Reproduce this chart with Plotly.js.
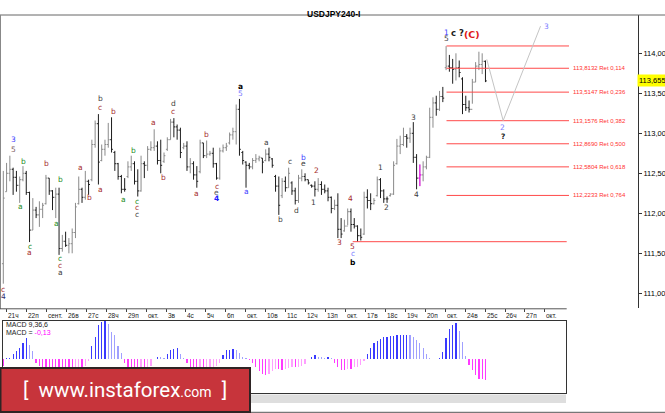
<!DOCTYPE html>
<html><head><meta charset="utf-8">
<script src="https://cdn.plot.ly/plotly-3.0.1.min.js"></script>
<style>html,body{margin:0;padding:0;background:#fff}#chart{width:665px;height:413px}</style>
</head><body><div id="chart"></div>
<script>
// ---- DATA (USDJPY H4) ----
const barOpen = [111.37,112.27,112.50,112.55,112.45,112.35,112.42,112.50,112.26,111.79,112.04,111.98,112.05,112.12,112.44,112.28,112.20,112.24,111.56,111.65,111.60,111.62,111.76,112.12,112.30,112.20,112.40,112.42,112.86,113.12,112.66,112.80,112.86,112.92,112.76,112.62,112.46,112.30,112.46,112.58,112.62,112.40,112.28,112.62,112.60,112.80,112.82,112.84,112.66,112.65,112.80,112.92,113.14,113.08,113.04,112.82,112.84,112.58,112.62,112.48,112.52,112.88,112.72,112.74,112.75,112.62,112.44,112.78,112.82,112.88,112.98,113.02,113.30,112.76,112.64,112.60,112.58,112.66,112.68,112.69,112.66,112.74,112.68,112.46,112.34,112.22,112.40,112.32,112.38,112.28,112.16,112.44,112.46,112.42,112.35,112.34,112.30,112.36,112.30,112.28,112.20,112.06,112.10,111.80,111.78,111.84,112.02,111.86,111.84,111.72,111.74,112.20,112.16,112.12,112.22,112.42,112.28,112.18,112.22,112.24,112.62,112.84,112.86,112.96,112.94,113.00,112.70,112.44,112.48,112.58,112.70,113.20,113.38,113.30,113.46,113.82,113.84,113.82,113.80,113.82,113.68,113.36,113.32,113.30,113.64,113.84,113.86,113.90];
const barHigh = [112.53,112.63,112.72,112.57,112.53,112.46,112.59,112.53,112.27,112.19,112.08,112.15,112.13,112.48,112.44,112.29,112.32,112.32,111.73,111.77,111.69,111.81,112.13,112.46,112.32,112.53,112.42,112.92,113.16,113.24,112.86,112.92,113.13,113.20,112.78,112.63,112.48,112.44,112.65,112.72,112.65,112.55,112.72,112.65,112.84,112.90,113.05,112.90,112.92,112.76,112.95,113.18,113.19,113.11,113.07,112.88,112.90,112.69,112.65,112.59,112.92,112.88,112.91,112.78,112.82,112.63,112.82,112.86,112.88,113.01,113.07,113.36,113.43,112.78,112.65,112.63,112.69,112.74,112.72,112.69,112.80,112.82,112.69,112.48,112.46,112.44,112.46,112.57,112.40,112.32,112.48,112.55,112.50,112.42,112.36,112.40,112.44,112.40,112.36,112.32,112.21,112.17,112.25,111.94,111.92,112.06,112.06,111.94,111.85,111.81,112.27,112.30,112.25,112.19,112.46,112.44,112.30,112.21,112.25,112.65,112.93,112.97,113.07,112.99,113.07,113.14,112.74,112.61,112.65,112.72,113.32,113.45,113.47,113.53,113.58,114.09,113.98,113.93,114.00,113.91,113.70,113.47,113.41,113.68,113.89,114.02,114.00,113.91];
const barLow = [111.12,112.27,112.40,112.23,112.27,112.13,112.40,112.23,111.64,111.79,111.94,111.83,111.94,112.11,112.23,112.04,111.94,111.48,111.52,111.58,111.50,111.50,111.69,112.11,112.13,112.17,112.23,112.40,112.82,112.36,112.65,112.72,112.82,112.76,112.53,112.42,112.25,112.27,112.44,112.53,112.36,112.21,112.27,112.44,112.53,112.78,112.78,112.61,112.50,112.63,112.78,112.92,112.95,112.92,112.69,112.80,112.53,112.50,112.42,112.32,112.50,112.69,112.69,112.72,112.57,112.42,112.42,112.76,112.78,112.86,112.92,112.86,112.72,112.61,112.32,112.55,112.55,112.63,112.65,112.50,112.65,112.65,112.57,112.27,111.98,112.19,112.27,112.32,112.23,112.11,112.13,112.40,112.40,112.36,112.32,112.21,112.27,112.23,112.25,112.15,112.00,112.04,111.69,111.69,111.77,111.85,111.77,111.81,111.645,111.66,111.73,112.06,112.04,112.11,112.21,112.19,112.13,112.13,112.21,112.23,112.61,112.74,112.84,112.82,112.88,112.63,112.30,112.34,112.40,112.55,112.69,113.07,113.22,113.28,113.39,113.79,113.77,113.62,113.66,113.70,113.24,113.28,113.26,113.37,113.64,113.79,113.74,113.64];
const barClose = [112.19,112.50,112.55,112.45,112.35,112.42,112.50,112.26,111.79,112.04,111.98,112.05,112.10,112.44,112.28,112.20,112.24,111.56,111.65,111.60,111.62,111.76,112.08,112.30,112.20,112.40,112.36,112.86,113.12,112.64,112.80,112.86,112.92,112.80,112.62,112.46,112.30,112.30,112.58,112.62,112.40,112.28,112.62,112.60,112.80,112.82,112.84,112.66,112.60,112.72,112.92,113.14,113.08,113.04,112.76,112.84,112.58,112.62,112.48,112.40,112.88,112.72,112.74,112.75,112.62,112.44,112.78,112.82,112.84,112.98,113.02,113.30,112.80,112.66,112.60,112.58,112.66,112.68,112.70,112.64,112.74,112.70,112.60,112.34,112.10,112.40,112.32,112.50,112.28,112.16,112.44,112.46,112.42,112.38,112.34,112.30,112.36,112.30,112.28,112.20,112.06,112.10,111.80,111.74,111.84,112.02,111.86,111.84,111.72,111.70,112.20,112.16,112.12,112.16,112.42,112.28,112.18,112.18,112.24,112.60,112.84,112.86,112.96,112.94,113.00,112.70,112.44,112.48,112.58,112.70,113.20,113.38,113.30,113.46,113.44,113.84,113.82,113.80,113.82,113.76,113.36,113.32,113.30,113.64,113.84,113.86,113.90,113.655];
const macdHist = [-0.04,0.005,0.01,0.03,0.05,0.07,0.10,0.13,0.09,0.05,-0.02,-0.04,-0.05,-0.05,-0.05,-0.05,-0.05,-0.06,-0.06,-0.06,-0.06,-0.06,-0.055,-0.05,-0.05,-0.04,-0.01,0.08,0.14,0.21,0.23,0.235,0.22,0.17,0.15,0.08,0.04,-0.02,-0.05,-0.06,-0.065,-0.065,-0.06,-0.06,-0.055,-0.04,0.0,0.015,0.012,0.008,0.035,0.058,0.062,0.068,0.032,0.005,-0.02,-0.05,-0.06,-0.065,-0.06,-0.06,-0.055,-0.05,-0.045,-0.04,-0.02,0.025,0.055,0.06,0.062,0.06,0.04,0.012,0.005,-0.005,-0.02,-0.05,-0.07,-0.09,-0.097,-0.09,-0.075,-0.06,-0.06,-0.065,-0.06,-0.055,-0.05,-0.05,-0.045,-0.04,-0.03,0.0,0.012,0.025,0.015,0.012,0.01,0.015,0.005,-0.02,-0.05,-0.065,-0.066,-0.06,-0.06,-0.05,-0.045,-0.035,-0.01,0.035,0.07,0.10,0.115,0.125,0.135,0.14,0.145,0.145,0.15,0.15,0.15,0.152,0.15,0.14,0.12,0.10,0.07,0.035,0.006,0.004,0.004,0.006,0.048,0.13,0.186,0.213,0.224,0.178,0.11,0.02,-0.035,-0.066,-0.097,-0.12,-0.125,-0.13];
const highlightBar = 127;
const timeLabels = ["21ч","22п","сент.","26в","27с","28ч","29п","окт.","3в","4с","5ч","6п","окт.","10в","11с","12ч","13п","окт.","17в","18с","19ч","20п","окт.","24в","25с","26ч","27п","окт."];
const priceTicks = [111.0,111.5,112.0,112.5,113.0,113.5,114.0];
const fibLevels = [113.8132,113.5147,113.1576,112.8690,112.5804,112.2233];
const fibRatios = ["0,114","0,236","0,382","0,500","0,618","0,764"];
const fibTop = 114.092, fibBottom = 111.645;
const projBars = [147.4,152.4,163.8];
const projPrices = [113.925,113.16,114.34];
const lastPrice = 113.655;
const macdParams = "9,36,6";
const waveText  = ["c","4","3","5","b","a","c","a","b","b","a","c","c","a","a","b","b","c","a","b","a","b","c","c","c","a","b","d","c","a","b","c","e","4","a","5","a","a","b","c","d","b","e","2","1","3","4","5","c","b","1","2","3","4","1","5","c ?","(C)","2","?","3"];
const waveBar   = [0,0,3,3,6.1,5.1,8.1,8.1,13.2,17.3,16.3,17.3,17.3,17.3,23.4,26.2,29.5,29.5,29.5,33.5,36.6,39.6,40.7,40.7,40.7,45.7,48.8,51.8,51.8,59,62,65.1,65.1,65.1,72.2,72.2,74.2,80.3,84.4,87.4,89.5,91.5,91.5,95.5,94.5,102.4,105.7,106.5,106.5,106.5,115.1,116.7,125,126,135,135,138.6,142.8,152.3,152.3,165.5];
const wavePrice = [111.05,110.96,112.92,112.80,112.65,112.08,111.59,111.51,112.62,112.42,111.87,111.44,111.35,111.26,112.57,112.20,113.43,113.32,112.30,113.27,112.17,112.79,112.15,112.07,111.99,113.13,112.45,113.37,113.27,112.25,112.99,112.34,112.26,112.18,113.59,113.50,112.27,112.89,111.92,112.65,112.03,112.70,112.62,112.53,112.14,111.64,112.18,111.58,111.50,111.38,112.57,112.07,113.20,112.23,114.26,114.18,114.26,114.24,113.07,112.96,114.34];
const waveColor = ["#a52a2a","#303070","#3c3cff","#806060","#228b22","#228b22","#228b22","#a52a2a","#a52a2a","#228b22","#228b22","#228b22","#a52a2a","#3c3c3c","#a52a2a","#a52a2a","#3c3c3c","#a52a2a","#a52a2a","#a52a2a","#228b22","#228b22","#228b22","#a52a2a","#3c3c3c","#a52a2a","#a52a2a","#3c3c3c","#a52a2a","#a52a2a","#a52a2a","#a52a2a","#606060","#2020ff","#000000","#7b7bff","#3c3cff","#3c3c3c","#3c3c3c","#3c3c3c","#3c3c3c","#3c3cff","#3c3c3c","#a52a2a","#3c3c3c","#a52a2a","#a52a2a","#a52a2a","#7b7bff","#000000","#3c3c3c","#3c3c3c","#3c3c3c","#3c3c3c","#3c3cff","#3c3c3c","#202020","#e01818","#7b7bff","#202020","#7b7bff"];
const waveBold  = [0,0,0,0,0,0,0,0,0,0,0,0,0,0,0,0,0,0,0,0,0,0,0,0,0,0,0,0,0,0,0,0,0,1,1,0,0,0,0,0,0,0,0,0,0,0,0,0,0,1,0,0,0,0,0,0,1,1,0,1,0];

// ---- GEOMETRY ----
const W=665,H=413;
const fx=p=>p/W, fy=p=>1-p/H;
const BAR0=3.3, BARW=3.28;
const bx=px=>(px-BAR0)/BARW;
const idx = barClose.map((_,i)=>i);
const fmtC = (v,d)=>v.toFixed(d).replace('.',',');
const FONT = "Liberation Sans, Arial, sans-serif";

const tickMarks = timeLabels.map((_,k)=>bx(6.5+19.94*k));

const traces = [];
traces.push({type:'ohlc',x:idx,open:barOpen,high:barHigh,low:barLow,close:barClose,xaxis:'x',yaxis:'y',
  increasing:{line:{color:'#8a8a8a',width:1}},decreasing:{line:{color:'#1c1c1c',width:1}},
  tickwidth:0.42,hoverinfo:'skip',showlegend:false});
traces.push({type:'ohlc',x:[highlightBar],open:[barOpen[highlightBar]],high:[barHigh[highlightBar]],low:[barLow[highlightBar]],close:[barClose[highlightBar]],
  xaxis:'x',yaxis:'y',increasing:{line:{color:'#ff00ff',width:1}},decreasing:{line:{color:'#ff00ff',width:1}},
  tickwidth:0.42,hoverinfo:'skip',showlegend:false});

const fibStart=bx(446.5), fibEnd=bx(569), fibLabelX=bx(571.5);
const fx_=[], fy_=[];
[fibTop].concat(fibLevels).forEach(v=>{fx_.push(fibStart,fibEnd,null);fy_.push(v,v,null);});
fx_.push(bx(352.7),bx(566.7),null); fy_.push(fibBottom,fibBottom,null);
traces.push({type:'scatter',mode:'lines',x:fx_,y:fy_,xaxis:'x',yaxis:'y',line:{color:'#ff4a4a',width:1},hoverinfo:'skip',showlegend:false});
traces.push({type:'scatter',mode:'lines',x:projBars,y:projPrices,xaxis:'x',yaxis:'y',line:{color:'#c4c4c4',width:1},hoverinfo:'skip',showlegend:false});

const macdColors = macdHist.map((v,i)=>{
  const p = i>0?macdHist[i-1]:v;
  if (v>=0) return v>=p?'#3a3aff':'#a0a0ff';
  return v<=p?'#ff3aff':'#ffa0ff';
});
traces.push({type:'bar',x:idx,y:macdHist,xaxis:'x2',yaxis:'y2',width:0.38,marker:{color:macdColors,line:{width:0}},hoverinfo:'skip',showlegend:false});

const ann = [];
ann.push({text:'<b>USDJPY240-I</b>',x:fx(333),y:fy(6.5),xref:'paper',yref:'paper',xanchor:'center',showarrow:false,font:{family:FONT,size:8.5,color:'#000'}});
timeLabels.forEach((t,k)=>ann.push({text:t,x:tickMarks[k]+0.15,y:fy(315),xref:'x',yref:'paper',xanchor:'left',yanchor:'middle',showarrow:false,font:{family:FONT,size:6.5,color:'#222'},borderpad:0}));
fibLevels.forEach((v,k)=>ann.push({text:fmtC(v,4)+' Ret '+fibRatios[k],x:fibLabelX,y:v,xref:'x',yref:'y',xanchor:'left',yanchor:'middle',showarrow:false,font:{family:FONT,size:6,color:'#ff3030'},borderpad:0}));
waveText.forEach((t,k)=>ann.push({text:waveBold[k]?'<b>'+t+'</b>':t,x:waveBar[k],y:wavePrice[k],xref:'x',yref:'y',xanchor:'center',yanchor:'middle',showarrow:false,
  font:{family:"DejaVu Sans, sans-serif",size:(t==='(C)'?9.5:(t==='c ?'?8.5:7.5)),color:waveColor[k]},borderpad:0}));
ann.push({text:fmtC(lastPrice,3),x:fx(636.5),y:lastPrice,xref:'paper',yref:'y',xanchor:'left',yanchor:'middle',showarrow:false,bgcolor:'#ffff00',borderpad:1,font:{family:FONT,size:7.5,color:'#000'}});
ann.push({text:'MACD '+macdParams,x:fx(5),y:fy(324.3),xref:'paper',yref:'paper',xanchor:'left',yanchor:'middle',showarrow:false,font:{family:FONT,size:7,color:'#222'},borderpad:0});
ann.push({text:'MACD = <span style="color:#ff00ff">'+fmtC(macdHist[macdHist.length-1],2)+'</span>',x:fx(5),y:fy(332.3),xref:'paper',yref:'paper',xanchor:'left',yanchor:'middle',showarrow:false,font:{family:FONT,size:7,color:'#222'},borderpad:0});
ann.push({text:'[  www.instaforex<span style="font-size:14px">.com</span>  ]',x:fx(125),y:fy(390),xref:'paper',yref:'paper',xanchor:'center',yanchor:'middle',showarrow:false,font:{family:"Roboto, sans-serif",size:20.5,color:'#ffffff'}});

const shapes = [
  {type:'line',xref:'paper',yref:'paper',x0:0,x1:1,y0:fy(15),y1:fy(15),line:{color:'#666',width:1}},
  {type:'line',xref:'paper',yref:'paper',x0:fx(0.5),x1:fx(0.5),y0:fy(15),y1:fy(309),line:{color:'#888',width:1}},
  {type:'line',xref:'paper',yref:'paper',x0:0,x1:fx(566.7),y0:fy(308.8),y1:fy(308.8),line:{color:'#555',width:1}},
  {type:'line',xref:'paper',yref:'paper',x0:0,x1:1,y0:fy(412.3),y1:fy(412.3),line:{color:'#555',width:1}},
  {type:'rect',xref:'paper',yref:'paper',x0:fx(250),x1:fx(566),y0:fy(403),y1:fy(394.5),fillcolor:'#dedede',line:{width:0}},
  {type:'rect',xref:'paper',yref:'paper',layer:'above',x0:fx(0.5),x1:fx(250),y0:fy(412),y1:fy(368),fillcolor:'#c7343b',line:{color:'#2e2424',width:2}}
];

const layout = {
  width:W,height:H,margin:{l:0,r:0,t:0,b:0},paper_bgcolor:'#fff',plot_bgcolor:'#fff',showlegend:false,
  xaxis:{domain:[fx(1),fx(638)],range:[bx(1),bx(638)],anchor:'y',showgrid:false,zeroline:false,showline:false,
    tickvals:tickMarks,ticks:'outside',ticklen:3,tickcolor:'#444',tickwidth:1,showticklabels:false,
    rangeslider:{visible:false},fixedrange:true},
  yaxis:{domain:[fy(308),fy(15)],range:[110.816,114.479],side:'right',anchor:'x',showgrid:false,zeroline:false,
    showline:true,linecolor:'#333',linewidth:1,ticks:'outside',ticklen:3,tickcolor:'#333',
    tickvals:priceTicks,ticktext:priceTicks.map(v=>fmtC(v,3)),tickfont:{family:FONT,size:7.5,color:'#000'},fixedrange:true},
  xaxis2:{domain:[fx(3),fx(566)],range:[bx(3),bx(566)],anchor:'y2',showgrid:false,zeroline:false,showline:true,mirror:true,
    linecolor:'#333',linewidth:1,ticks:'',showticklabels:false,fixedrange:true},
  yaxis2:{domain:[fy(393),fy(320.7)],range:[-0.209,0.239],anchor:'x2',showgrid:false,zeroline:false,showline:true,mirror:true,
    linecolor:'#333',linewidth:1,ticks:'',showticklabels:false,fixedrange:true},
  bargap:0,
  annotations:ann,shapes:shapes
};
Plotly.newPlot('chart',traces,layout,{staticPlot:true,displayModeBar:false});
</script></body></html>
